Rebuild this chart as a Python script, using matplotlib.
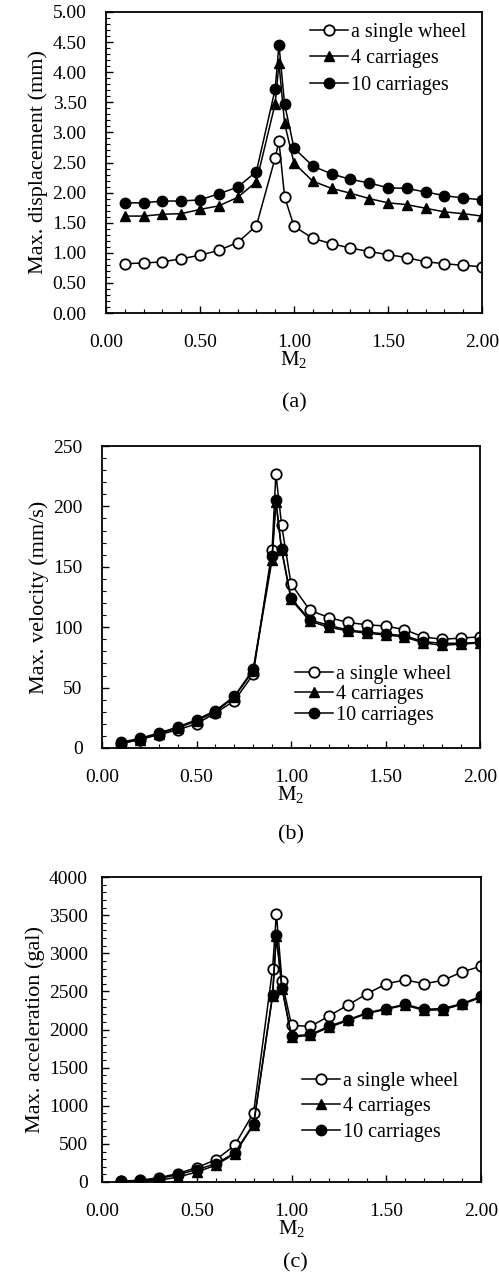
import matplotlib
matplotlib.use("Agg")
import matplotlib.pyplot as plt
from matplotlib.ticker import MultipleLocator, FormatStrFormatter

plt.rcParams['font.family'] = ['Liberation Serif', 'DejaVu Serif']
plt.rcParams['mathtext.fontset'] = 'custom'
plt.rcParams['mathtext.rm'] = 'Liberation Serif'
plt.rcParams['mathtext.it'] = 'Liberation Serif:italic'

# M2 values (common to all panels)
m2 = [0.1, 0.2, 0.3, 0.4, 0.5, 0.6, 0.7, 0.8, 0.9, 0.92, 0.95,
      1.0, 1.1, 1.2, 1.3, 1.4, 1.5, 1.6, 1.7, 1.8, 1.9, 2.0]

series_labels = ['a single wheel', '4 carriages', '10 carriages']

# (a) max displacement (mm)
disp_single = [0.82, 0.83, 0.85, 0.90, 0.96, 1.04, 1.17, 1.45, 2.58, 2.85, 1.93,
               1.44, 1.24, 1.15, 1.08, 1.02, 0.97, 0.92, 0.85, 0.82, 0.79, 0.77]
disp_4car = [1.61, 1.61, 1.64, 1.65, 1.72, 1.78, 1.92, 2.18, 3.48, 4.15, 3.15,
             2.49, 2.19, 2.07, 1.99, 1.90, 1.83, 1.80, 1.74, 1.68, 1.65, 1.61]
disp_10car = [1.83, 1.83, 1.86, 1.86, 1.88, 1.98, 2.09, 2.35, 3.72, 4.46, 3.47,
              2.74, 2.44, 2.31, 2.22, 2.16, 2.08, 2.07, 2.01, 1.95, 1.91, 1.88]

# (b) max velocity (mm/s)
vel_single = [3.6, 7, 11, 15, 20, 29, 39, 61, 164, 227, 185,
              136, 114, 108, 104, 102, 101, 98, 92, 90, 91, 92]
vel_4car = [4, 7, 12, 16.5, 22.5, 30, 42, 64, 156, 204, 164,
            123, 105, 100, 97, 95, 93.6, 92, 87, 85, 86, 87]
vel_10car = [4.7, 8, 12.4, 17.3, 23.4, 31, 42.7, 65, 159, 205, 165,
             124, 106, 101.6, 97.7, 96, 94.4, 93, 88, 86.7, 86.7, 87.5]

# (c) max acceleration (gal)
acc_single = [13, 22, 57, 110, 190, 290, 480, 910, 2790, 3520, 2630,
              2055, 2040, 2180, 2325, 2470, 2600, 2650, 2600, 2645, 2755, 2830]
acc_4car = [0, 9, 22, 65, 130, 220, 370, 750, 2440, 3220, 2535,
            1900, 1925, 2030, 2120, 2210, 2265, 2320, 2250, 2260, 2330, 2420]
acc_10car = [9, 17, 44, 96, 162, 240, 380, 765, 2450, 3235, 2550,
             1915, 1935, 2045, 2130, 2220, 2275, 2330, 2265, 2275, 2340, 2435]

W, H = 499, 1282
fig = plt.figure(figsize=(W / 100, H / 100), dpi=100)


def px_axes(left, right, top, bottom):
    return fig.add_axes([left / W, 1 - bottom / H, (right - left) / W, (bottom - top) / H])


def draw_panel(ax, ys, ylim, ymajor, yminor, yfmt, ylabel, leg_anchor, leg_spacing, ypad):
    styles = [
        dict(marker='o', markerfacecolor='white', markeredgecolor='black', markersize=7.5, markeredgewidth=1.3),
        dict(marker='^', markerfacecolor='black', markeredgecolor='black', markersize=7.5),
        dict(marker='o', markerfacecolor='black', markeredgecolor='black', markersize=7.5),
    ]
    for y, lab, st in zip(ys, series_labels, styles):
        ax.plot(m2, y, color='black', linewidth=1.1, label=lab, **st)
    ax.set_xlim(0, 2.0)
    ax.set_ylim(*ylim)
    ax.xaxis.set_major_locator(MultipleLocator(0.5))
    ax.xaxis.set_minor_locator(MultipleLocator(0.1))
    ax.xaxis.set_major_formatter(FormatStrFormatter('%.2f'))
    ax.yaxis.set_major_locator(MultipleLocator(ymajor))
    ax.yaxis.set_minor_locator(MultipleLocator(yminor))
    ax.yaxis.set_major_formatter(FormatStrFormatter(yfmt))
    ax.tick_params(axis='both', which='both', direction='in', top=False, right=False, labelsize=14)
    ax.tick_params(axis='both', which='major', length=5, width=1)
    ax.tick_params(axis='both', which='minor', length=3, width=0.8)
    ax.tick_params(axis='x', which='major', pad=15)
    ax.tick_params(axis='y', which='major', pad=ypad)
    for sp in ax.spines.values():
        sp.set_linewidth(1.3)
    ax.set_ylabel(ylabel, fontsize=16, labelpad=3)
    ax.set_xlabel(r'M$_{\mathrm{2}}$', fontsize=15, labelpad=-1)
    ax.legend(loc='upper left', bbox_to_anchor=leg_anchor, frameon=False, fontsize=14.5,
              handlelength=1.9, handletextpad=0.15, labelspacing=leg_spacing,
              borderpad=0, borderaxespad=0)


ax1 = px_axes(106, 482, 12, 313)
draw_panel(ax1, [disp_single, disp_4car, disp_10car], (0, 5.0), 0.5, 0.1, '%.2f',
           'Max. displacement (mm)', (0.543, 0.965), 0.38, 14)
fig.text(294 / W, 1 - 403 / H, '(a)', ha='center', va='center', fontsize=16)

ax2 = px_axes(102, 480, 446, 748)
draw_panel(ax2, [vel_single, vel_4car, vel_10car], (0, 250), 50, 10, '%d',
           'Max. velocity (mm/s)', (0.511, 0.275), 0.06, 14)
fig.text(291 / W, 1 - 835 / H, '(b)', ha='center', va='center', fontsize=16)

ax3 = px_axes(102, 481, 877, 1182)
draw_panel(ax3, [acc_single, acc_4car, acc_10car], (0, 4000), 500, 100, '%d',
           'Max. acceleration (gal)', (0.528, 0.36), 0.3, 10)
fig.text(295 / W, 1 - 1263 / H, '(c)', ha='center', va='center', fontsize=16)

fig.savefig('out.png', dpi=100)
